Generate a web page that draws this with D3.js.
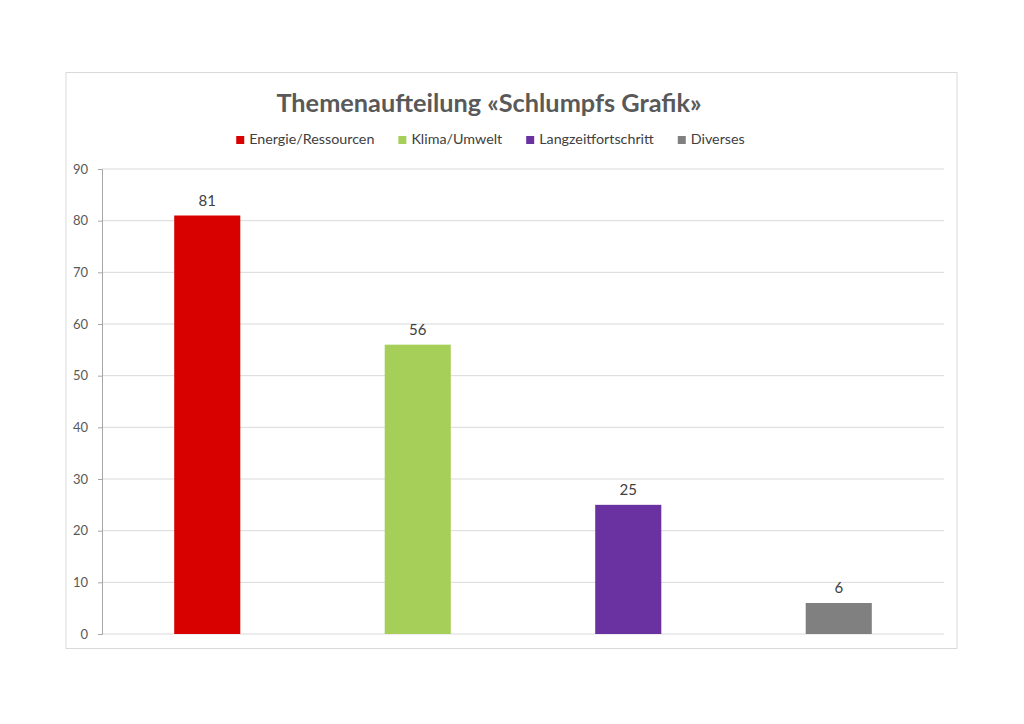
<!DOCTYPE html>
<html>
<head>
<meta charset="utf-8">
<script src="https://cdn.jsdelivr.net/npm/d3@7"></script>
<style>
  body { margin: 0; background: #fff; }
  text { font-family: Lato, "Open Sans", sans-serif; }
</style>
</head>
<body>
<svg id="chart" width="1024" height="724"></svg>
<script>
const categories = ["Energie/Ressourcen", "Klima/Umwelt", "Langzeitfortschritt", "Diverses"];
const values = [81, 56, 25, 6];
const colors = ["#d90000", "#a6cf5a", "#6a31a0", "#808080"];
const yTicks = [0, 10, 20, 30, 40, 50, 60, 70, 80, 90];
const chartTitle = "Themenaufteilung «Schlumpfs Grafik»";

const margin = {top: 169, right: 80, bottom: 90, left: 102};
const width = 1024, height = 724;
const innerW = width - margin.left - margin.right;
const innerH = height - margin.top - margin.bottom;

const svg = d3.select('#chart');

// chart frame
svg.append('rect')
    .attr('x', 66).attr('y', 72.5)
    .attr('width', 891).attr('height', 576)
    .attr('fill', '#fff')
    .attr('stroke', '#d9d9d9')
    .attr('stroke-width', 1);

svg.append('text')
    .attr('x', 489).attr('y', 112)
    .attr('text-anchor', 'middle')
    .attr('font-size', 25.3)
    .attr('font-weight', 'bold')
    .attr('fill', '#595959')
    .text(chartTitle);

const g = svg.append('g')
    .attr('transform', 'translate(' + margin.left + ',' + margin.top + ')');

const x = d3.scaleBand()
    .domain(categories)
    .range([0, innerW])
    .paddingInner(0.686)
    .paddingOuter(0.343);

const y = d3.scaleLinear()
    .domain([0, 90])
    .range([innerH, 0]);

// gridlines
g.selectAll('line.grid')
    .data(yTicks)
    .enter()
    .append('line')
    .attr('class', 'grid')
    .attr('x1', 0).attr('x2', innerW)
    .attr('y1', d => y(d)).attr('y2', d => y(d))
    .attr('stroke', '#d9d9d9')
    .attr('stroke-width', 1);

// y axis
const yAxis = g.append('g')
    .call(d3.axisLeft(y).tickValues(yTicks).tickSize(4).tickPadding(10));
yAxis.select('.domain').attr('stroke', '#a6a6a6');
yAxis.selectAll('.tick line').attr('stroke', '#a6a6a6');
yAxis.selectAll('.tick text')
    .attr('font-size', 13)
    .attr('fill', '#595959')
    .style('font-family', 'Lato, sans-serif');

// bars
g.selectAll('rect.bar')
    .data(values)
    .enter()
    .append('rect')
    .attr('class', 'bar')
    .attr('x', (d, i) => x(categories[i]))
    .attr('y', d => y(d))
    .attr('width', x.bandwidth())
    .attr('height', d => innerH - y(d))
    .attr('fill', (d, i) => colors[i]);

// data labels
g.selectAll('text.label')
    .data(values)
    .enter()
    .append('text')
    .attr('class', 'label')
    .attr('x', (d, i) => x(categories[i]) + x.bandwidth() / 2)
    .attr('y', d => y(d) - 10)
    .attr('text-anchor', 'middle')
    .attr('font-size', 15)
    .attr('fill', '#404040')
    .text(d => d);

// legend, laid out in sequence and centred under the title
const legend = svg.append('g').attr('transform', 'translate(0,144)');
const items = legend.selectAll('g')
    .data(categories)
    .enter()
    .append('g');
items.append('rect')
    .attr('width', 8).attr('height', 8)
    .attr('y', -8)
    .attr('fill', (d, i) => colors[i]);
items.append('text')
    .attr('x', 13)
    .attr('font-size', 14.3)
    .attr('fill', '#404040')
    .text(d => d);

var offset = 0;
var positions = [];
items.each(function() {
  positions.push(offset);
  offset += 13 + this.querySelector('text').getComputedTextLength() + 24;
});
const totalW = offset - 24;
const startX = 490.5 - totalW / 2;
items.attr('transform', (d, i) => 'translate(' + (startX + positions[i]) + ',0)');
</script>
</body>
</html>
